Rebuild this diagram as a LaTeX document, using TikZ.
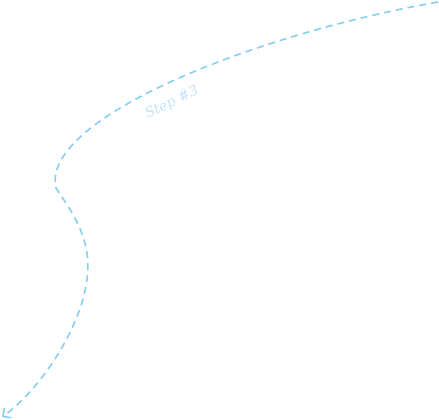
\documentclass[tikz,border=0pt]{standalone}
\usepackage{fontspec}
\newfontfamily\handfont{DejaVu Serif}
\usetikzlibrary{arrows.meta}
\definecolor{linecol}{RGB}{135,206,240}
\definecolor{txtcol}{RGB}{195,226,248}
\tikzset{
  flow/.style={draw=linecol, line width=1.6pt, dash pattern=on 7pt off 5pt, -{Straight Barb[length=6pt,width=12pt]}},
  steplabel/.style={text=txtcol, font=\handfont\itshape\fontsize{14}{14}\selectfont, rotate=26}
}
\begin{document}
\begin{tikzpicture}[x=1pt,y=-1pt]
\useasboundingbox (0,0) rectangle (439,420);
\coordinate (s) at (438,2);
\coordinate (k1) at (56,188);
\coordinate (k2) at (86,285);
\coordinate (e) at (2,417);
\draw[flow] (s) .. controls (250,35) and (40,120) .. (k1)
  .. controls (70,210) and (95,240) .. (k2)
  .. controls (79,330) and (40,390) .. (e);
\node[steplabel] (lbl) at (172,103) {Step \#3};
\end{tikzpicture}
\end{document}
